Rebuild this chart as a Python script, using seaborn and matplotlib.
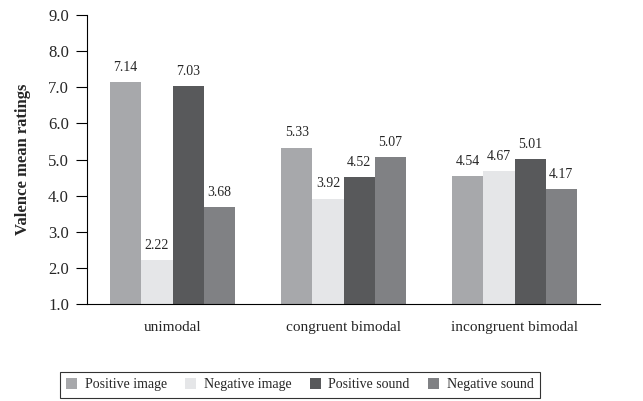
import numpy as np
import pandas as pd
import matplotlib
matplotlib.use("Agg")
import matplotlib.pyplot as plt
import seaborn as sns
from matplotlib.patches import Patch

# data
conditions = ["unimodal", "congruent bimodal", "incongruent bimodal"]
stimuli = ["Positive image", "Negative image", "Positive sound", "Negative sound"]
positive_image = [7.14, 5.33, 4.54]
negative_image = [2.22, 3.92, 4.67]
positive_sound = [7.03, 4.52, 5.01]
negative_sound = [3.68, 5.07, 4.17]
colors = ["#a7a8ab", "#e5e6e8", "#58595b", "#808184"]

rows = []
for s, vals in zip(stimuli, [positive_image, negative_image, positive_sound, negative_sound]):
    for c, v in zip(conditions, vals):
        rows.append({"condition": c, "stimulus": s, "rating": v})
df = pd.DataFrame(rows)

sns.set_style("white")
plt.rcParams["font.family"] = ["Liberation Serif", "DejaVu Serif"]

fig = plt.figure(figsize=(6.43, 4.01), dpi=100)
ax = fig.add_axes([87 / 643, 97 / 401, 513 / 643, 289 / 401])

sns.barplot(data=df, x="condition", y="rating", hue="stimulus", order=conditions,
            hue_order=stimuli, palette=colors, width=0.73, saturation=1,
            linewidth=0, legend=False, ax=ax)

for cont in ax.containers:
    ax.bar_label(cont, fmt="%.2f", padding=6, fontsize=10)

ax.set_ylim(1, 9)
ax.set_yticks(np.arange(1, 10, 1))
ax.set_yticklabels([f"{v:.1f}" for v in np.arange(1, 10, 1)], fontsize=12)
ax.set_xlim(-0.5, 2.5)
ax.set_xticks([0, 1, 2])
ax.set_xticklabels(conditions, fontsize=11)
ax.set_xticks([-0.5, 0.5, 1.5, 2.5], minor=True)
ax.tick_params(axis="x", which="major", length=0, pad=12)
ax.tick_params(axis="x", which="minor", length=9, width=0.8, color="black", direction="out")
ax.tick_params(axis="y", length=8, width=0.8, color="black", direction="out", left=True, pad=5)
ax.set_xlabel("")
ax.set_ylabel("Valence mean ratings", fontsize=12, fontweight="bold", labelpad=12)

for side in ["top", "right"]:
    ax.spines[side].set_visible(False)
for side in ["left", "bottom"]:
    ax.spines[side].set_color("black")
    ax.spines[side].set_linewidth(0.8)

handles = [Patch(facecolor=c, edgecolor="none", label=s) for c, s in zip(colors, stimuli)]
leg = fig.legend(handles=handles, loc="upper left", bbox_to_anchor=(60 / 643, 1 - 372 / 401),
                 ncol=4, frameon=True, fancybox=False, fontsize=10, handlelength=0.8,
                 handleheight=0.8, handletextpad=0.55, columnspacing=1.3, borderpad=0.45,
                 borderaxespad=0)
leg.get_frame().set_edgecolor("black")
leg.get_frame().set_linewidth(0.8)

fig.savefig("out.png", dpi=100)
